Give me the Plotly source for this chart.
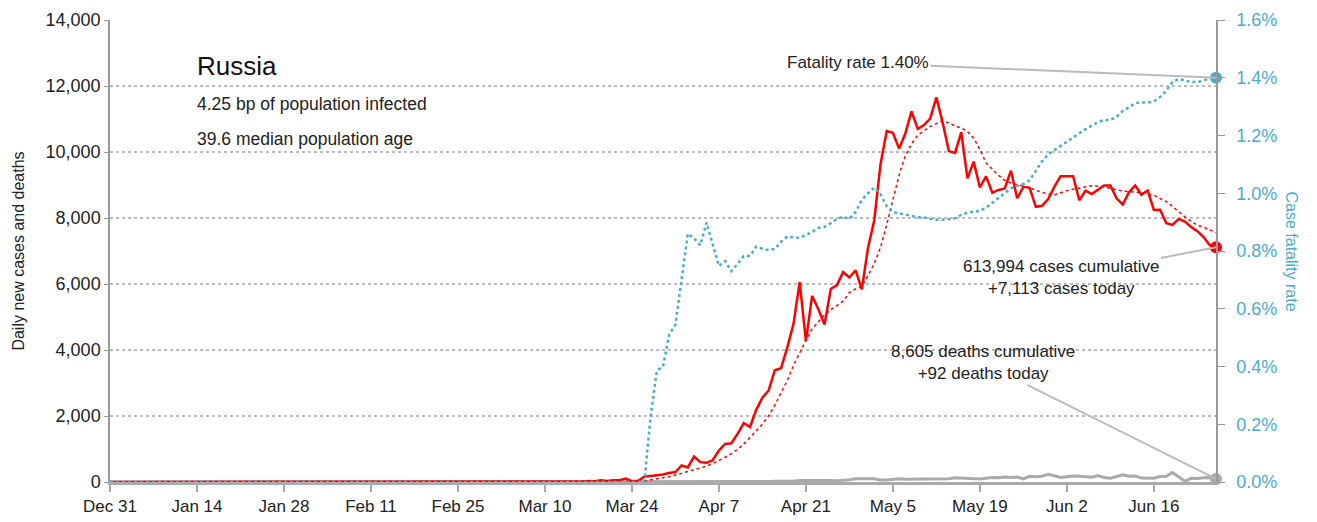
import pandas as pd
import plotly.graph_objects as go

END_DATE = "2020-06-26"
dates = pd.date_range("2019-12-31", END_DATE)

# Daily new cases, Mar 2 .. Jun 26 (earlier days are zero)
new_cases = [
    1, 0, 0, 1, 0, 1, 10, 0, 0, 3, 6, 6, 11, 4, 14, 30, 21, 52, 33, 54, 53, 105, 25, 35,
    163, 182, 196, 228, 270, 302,
    500, 440, 771, 601, 582, 658, 954, 1154, 1175, 1459, 1786, 1667, 2186, 2558, 2774,
    3388, 3448, 4070, 4785, 6060, 4268, 5642, 5236, 4774, 5849, 5966, 6361, 6198, 6411, 5841,
    7099, 7933, 9623, 10633, 10581, 10102, 10559, 11231, 10699, 10817, 11012, 11656, 10899,
    10028, 9974, 10598, 9200, 9709, 8926, 9263, 8764, 8849, 8894, 9434, 8599, 8946, 8915,
    8338, 8371, 8572, 8952,
    9268, 9268, 9268, 8536, 8831, 8726, 8855, 8984, 8985, 8595, 8404, 8779, 8987, 8706,
    8835, 8246, 8248, 7843, 7790, 7972, 7889, 7728, 7600, 7425, 7176, 7113,
]

# Smoothed trend of new cases, Mar 15 .. Jun 26
cases_trend = [
    2, 3, 4, 5, 6, 8, 10, 12, 14, 17, 20,
    30, 60, 90, 120, 160, 210,
    260, 310, 370, 420, 480, 560, 650, 750, 860, 990, 1150, 1340, 1550, 1760, 2000,
    2330, 2700, 3080, 3530, 3930, 4290, 4640, 4860, 5060, 5220, 5350, 5480, 5740, 5850, 5930,
    6250, 6620, 7100, 7800, 8560, 9300, 9880, 10250, 10510, 10650, 10770, 10860, 10950,
    10880, 10790, 10730, 10620, 10420, 10080, 9670, 9470, 9290, 9140, 9060, 9010, 8970,
    8920, 8840, 8770, 8720, 8700,
    8770, 8830, 8870, 8910, 8955, 8978, 8965, 8945, 8895, 8848, 8820, 8800, 8785, 8770,
    8730, 8690, 8590, 8500, 8350, 8190, 8035, 7900, 7780, 7720, 7640, 7560,
]

# Daily new deaths, Mar 20 .. Jun 26
new_deaths = [
    0, 0, 0, 0, 0, 0, 1, 0, 1, 1, 3, 1,
    2, 7, 2, 4, 6, 2, 2, 11, 13, 18, 12, 13, 16, 10, 18, 24, 23, 41, 33, 48, 50, 44, 57,
    45, 43, 40, 47, 66, 95, 108,
    101, 96, 57, 58, 76, 95, 86, 88, 98, 104, 88, 94, 107, 96, 128, 113, 119, 94, 91, 115,
    135, 127, 150, 139, 153, 92, 174, 161, 174, 232, 181,
    138, 162, 182, 178, 169, 144, 197, 134, 112, 171, 216, 174, 181, 119, 114, 113, 165,
    175, 290, 160, 20, 110, 105, 130, 135, 92,
]

# Case fatality rate (%), Mar 26 .. Jun 26
fatality_rate = [
    0.0, 0.226, 0.385, 0.40, 0.51, 0.545,
    0.70, 0.86, 0.844, 0.82, 0.898, 0.82, 0.748, 0.765, 0.73, 0.755, 0.783, 0.783, 0.815,
    0.808, 0.803, 0.807, 0.832, 0.85, 0.847, 0.845, 0.855, 0.866, 0.88, 0.884, 0.896, 0.912,
    0.918, 0.911, 0.935, 0.977,
    1.0, 1.02, 0.997, 0.955, 0.935, 0.93, 0.925, 0.92, 0.917, 0.916, 0.913, 0.908, 0.908,
    0.911, 0.913, 0.925, 0.933, 0.936, 0.939, 0.95, 0.967, 0.984, 1.0, 1.017, 1.025, 1.032,
    1.045, 1.078, 1.11, 1.135, 1.15,
    1.163, 1.177, 1.194, 1.208, 1.222, 1.234, 1.246, 1.254, 1.254, 1.265, 1.285, 1.298,
    1.312, 1.314, 1.314, 1.318, 1.333, 1.355, 1.385, 1.396, 1.39, 1.385, 1.385, 1.39, 1.398,
    1.40,
]

country = "Russia"
infected_bp = "4.25"
median_age = "39.6"
cases_cumulative = 613994
deaths_cumulative = 8605

FONT = "Liberation Sans, Arial, sans-serif"
RED = "#ff0000"
BLUE = "#4bacc6"
GREY = "#aaaaaa"


def on_calendar(values):
    # values end on END_DATE; pad the earlier days with zero
    s = pd.Series(values, index=pd.date_range(end=END_DATE, periods=len(values)))
    return s.reindex(dates, fill_value=0)


cases = on_calendar(new_cases)
trend = on_calendar(cases_trend)
deaths = on_calendar(new_deaths)
cfr = on_calendar(fatality_rate)

fig = go.Figure()

fig.add_trace(go.Scatter(x=dates, y=cfr, yaxis="y2", mode="lines",
                         line=dict(color=BLUE, width=2.5, dash="dot")))
fig.add_trace(go.Scatter(x=dates, y=deaths, mode="lines",
                         line=dict(color=GREY, width=3)))
fig.add_trace(go.Scatter(x=dates, y=trend, mode="lines",
                         line=dict(color=RED, width=1.5, dash="dot")))
fig.add_trace(go.Scatter(x=dates, y=cases, mode="lines",
                         line=dict(color=RED, width=2.5)))

# end-of-series dots
fig.add_trace(go.Scatter(x=[dates[-1]], y=[cfr.iloc[-1]], yaxis="y2", mode="markers",
                         marker=dict(color=BLUE, size=12), cliponaxis=False))
fig.add_trace(go.Scatter(x=[dates[-1]], y=[cases.iloc[-1]], mode="markers",
                         marker=dict(color=RED, size=12), cliponaxis=False))
fig.add_trace(go.Scatter(x=[dates[-1]], y=[deaths.iloc[-1]], mode="markers",
                         marker=dict(color=GREY, size=12), cliponaxis=False))

# the page body adds an 8px offset, so margins are trimmed by 8px on the left/top
fig.update_layout(
    width=1317, height=522,
    margin=dict(l=102, r=109, t=12, b=48),
    plot_bgcolor="white", paper_bgcolor="white",
    showlegend=False,
    font=dict(family=FONT, size=17, color="#222"),
    xaxis=dict(
        type="date", range=[dates[0], dates[-1]], automargin=False,
        tick0="2019-12-31", dtick=14 * 86400000, tickformat="%b %-d",
        showgrid=False, zeroline=False,
        showline=True, linecolor=GREY, linewidth=3,
        ticks="outside", ticklen=7, tickwidth=2, tickcolor=GREY,
    ),
    yaxis=dict(
        range=[0, 14000], dtick=2000, tickformat=",", automargin=False,
        showgrid=True, gridcolor="#bbbbbb", griddash="dot", gridwidth=1.5,
        zeroline=False, showline=True, linecolor="#999999", linewidth=1.5,
        ticks="outside", ticklen=4, tickcolor="#999999", tickfont=dict(size=18),
        title=dict(text="Daily new cases and deaths", standoff=17, font=dict(size=16)),
    ),
    yaxis2=dict(
        overlaying="y", side="right", range=[0, 1.6], dtick=0.2, automargin=False,
        tickformat=".1f", ticksuffix="%", tickfont=dict(color=BLUE, size=18),
        showgrid=False, zeroline=False, showline=True, linecolor="#999999", linewidth=1.5,
        ticks="outside", ticklen=7, tickcolor="#999999", ticklabelstandoff=8,
    ),
)

# right axis title reads top-to-bottom
fig.add_annotation(xref="paper", yref="paper", x=1.0, xshift=86, y=0.5,
                   text="Case fatality rate", textangle=90, showarrow=False,
                   font=dict(size=16, color=BLUE))

fig.add_annotation(xref="paper", yref="paper", x=0.077, y=0.9, xanchor="left",
                   yanchor="middle", text=country, showarrow=False,
                   font=dict(size=26, color="#111"))
fig.add_annotation(xref="paper", yref="paper", x=0.077, y=0.818, xanchor="left",
                   yanchor="middle", text=f"{infected_bp} bp of population infected",
                   showarrow=False, font=dict(size=17.5))
fig.add_annotation(xref="paper", yref="paper", x=0.077, y=0.742, xanchor="left",
                   yanchor="middle", text=f"{median_age} median population age",
                   showarrow=False, font=dict(size=17.5))

leader = dict(showarrow=True, arrowhead=0, arrowwidth=2, arrowcolor="#bbbbbb",
              standoff=0, font=dict(size=17))
fig.add_annotation(x=dates[-1], y=cfr.iloc[-1], yref="y2",
                   text=f"Fatality rate {cfr.iloc[-1]:.2f}%", ax=-358, ay=-15, **leader)
fig.add_annotation(x=dates[-1], y=cases.iloc[-1], yref="y",
                   text=f"{cases_cumulative:,} cases cumulative<br>+{cases.iloc[-1]:,} cases today",
                   ax=-155, ay=30, **leader)
fig.add_annotation(x=dates[-1], y=deaths.iloc[-1], yref="y",
                   text=f"{deaths_cumulative:,} deaths cumulative<br>+{deaths.iloc[-1]:,} deaths today",
                   ax=-233, ay=-116, **leader)

fig.write_html("out.html")
